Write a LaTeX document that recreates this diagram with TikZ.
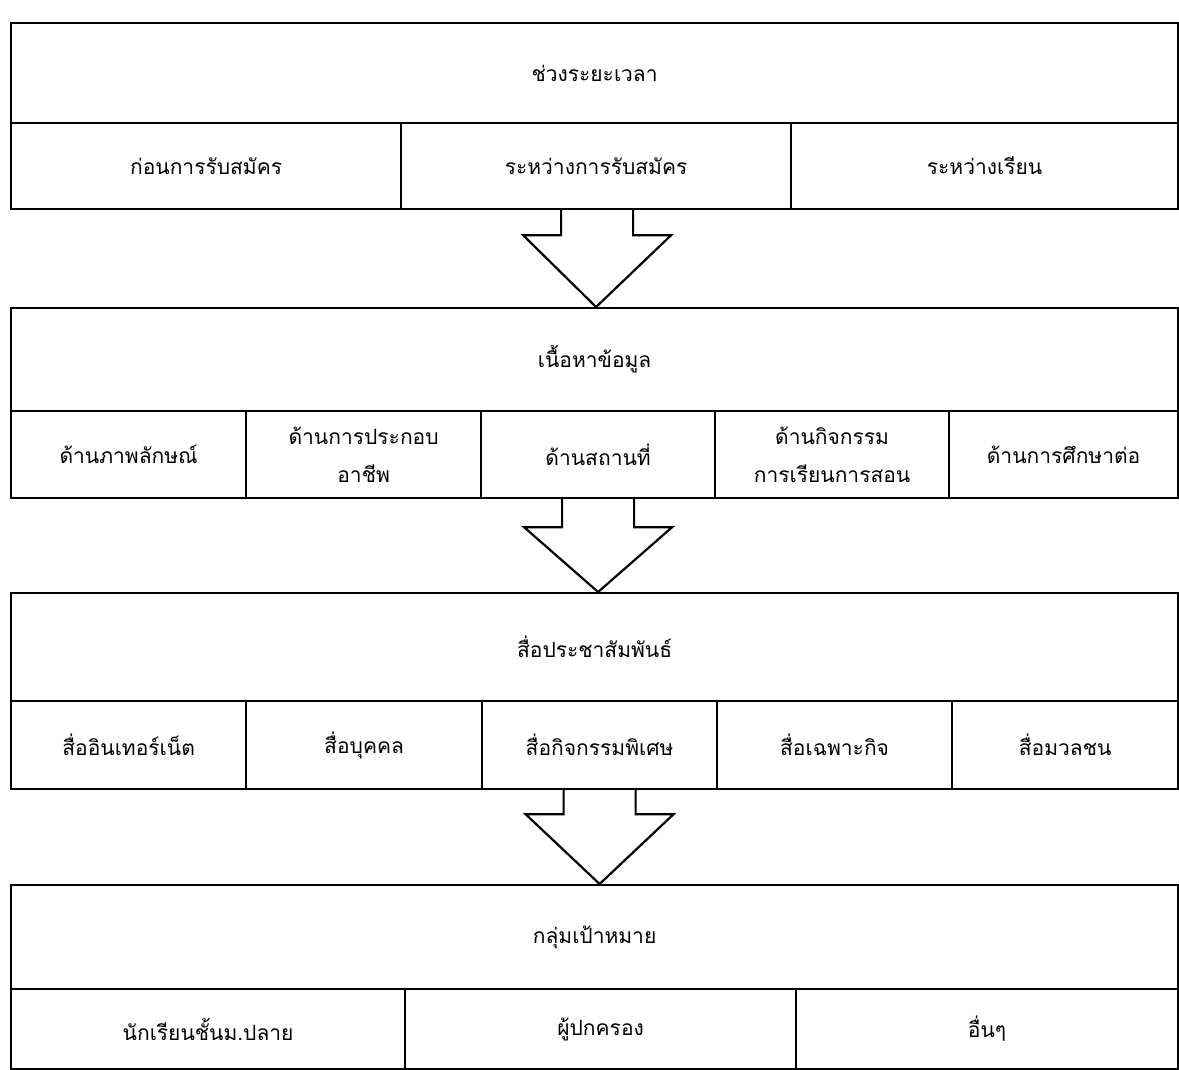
\documentclass[tikz,border=0pt]{standalone}
\usepackage{fontspec}
\newfontfamily\thaifont[Script=Thai]{Loma}
\usetikzlibrary{calc}
\begin{document}
\begin{tikzpicture}[x=1pt,y=-1pt,
  cell/.style={draw, line width=2.2pt, anchor=north west, inner sep=0pt, align=center,
    font=\thaifont\fontsize{21}{38}\selectfont},
  blockarrow/.style={draw, line width=2.2pt, fill=white, line join=miter}]
\useasboundingbox (0,0) rectangle (1179,1070);
% block 1
\node[cell, minimum width=1167pt, minimum height=100pt] (h1) at (10,22) {ช่วงระยะเวลา};
\node[cell, minimum width=390pt, minimum height=86pt] (c11) at (10,122) {ก่อนการรับสมัคร};
\node[cell, minimum width=390pt, minimum height=86pt] (c12) at (400,122) {ระหว่างการรับสมัคร};
\node[cell, minimum width=387pt, minimum height=86pt] (c13) at (790,122) {ระหว่างเรียน};
% block 2
\node[cell, minimum width=1167pt, minimum height=103pt] (h2) at (10,307) {เนื้อหาข้อมูล};
\node[cell, minimum width=235pt, minimum height=87pt] (c21) at (10,410) {ด้านภาพลักษณ์};
\node[cell, minimum width=235pt, minimum height=87pt] (c22) at (245,410) {ด้านการประกอบ\\อาชีพ};
\node[cell, minimum width=234pt, minimum height=87pt] (c23) at (480,410) {ด้านสถานที่};
\node[cell, minimum width=234pt, minimum height=87pt] (c24) at (714,410) {ด้านกิจกรรม\\การเรียนการสอน};
\node[cell, minimum width=229pt, minimum height=87pt] (c25) at (948,410) {ด้านการศึกษาต่อ};
% block 3
\node[cell, minimum width=1167pt, minimum height=108pt] (h3) at (10,592) {สื่อประชาสัมพันธ์};
\node[cell, minimum width=235pt, minimum height=88pt] (c31) at (10,700) {สื่ออินเทอร์เน็ต};
\node[cell, minimum width=236pt, minimum height=88pt] (c32) at (245,700) {สื่อบุคคล};
\node[cell, minimum width=235pt, minimum height=88pt] (c33) at (481,700) {สื่อกิจกรรมพิเศษ};
\node[cell, minimum width=235pt, minimum height=88pt] (c34) at (716,700) {สื่อเฉพาะกิจ};
\node[cell, minimum width=226pt, minimum height=88pt] (c35) at (951,700) {สื่อมวลชน};
% block 4
\node[cell, minimum width=1167pt, minimum height=104pt] (h4) at (10,884) {กลุ่มเป้าหมาย};
\node[cell, minimum width=394pt, minimum height=80pt] (c41) at (10,988) {นักเรียนชั้นม.ปลาย};
\node[cell, minimum width=391pt, minimum height=80pt] (c42) at (404,988) {ผู้ปกครอง};
\node[cell, minimum width=382pt, minimum height=80pt] (c43) at (795,988) {อื่นๆ};
% block arrows
\draw[blockarrow] ($(c12.south)+(-35,0)$) -- ++(0,25) -- ++(-38,0) -- (c12.south |- h2.north)
  -- ($(c12.south)+(75,25)$) -- ++(-38,0) -- ++(0,-25);
\draw[blockarrow] ($(c23.south)+(-36,0)$) -- ++(0,28) -- ++(-38,0) -- (c23.south |- h3.north)
  -- ($(c23.south)+(74,28)$) -- ++(-38,0) -- ++(0,-28);
\draw[blockarrow] ($(c33.south)+(-36,0)$) -- ++(0,24) -- ++(-38,0) -- (c33.south |- h4.north)
  -- ($(c33.south)+(74,24)$) -- ++(-38,0) -- ++(0,-24);
\end{tikzpicture}
\end{document}
